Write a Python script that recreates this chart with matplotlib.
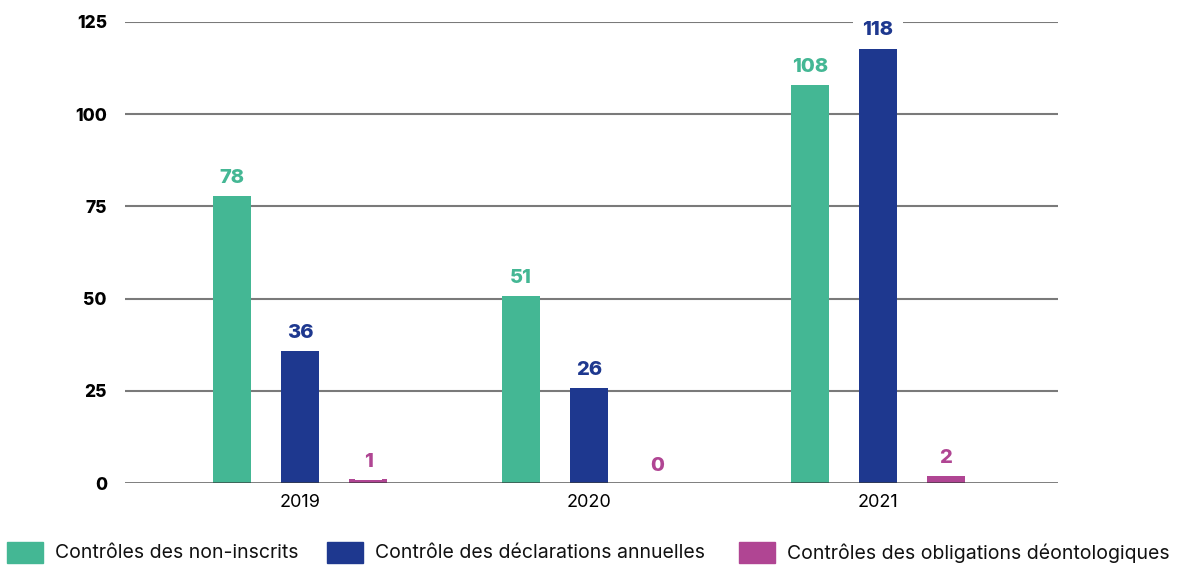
import matplotlib
matplotlib.use("Agg")
import matplotlib.pyplot as plt
from matplotlib.patches import Rectangle
import numpy as np

plt.rcParams['font.family'] = ['Inter', 'DejaVu Sans']

years = ["2019", "2020", "2021"]
series_names = ["Contrôles des non-inscrits",
                "Contrôle des déclarations annuelles",
                "Contrôles des obligations déontologiques"]
non_inscrits = [78, 51, 108]
declarations = [36, 26, 118]
deontologie = [1, 0, 2]
colors = ["#44B794", "#1E388F", "#B04593"]
y_ticks = [0, 25, 50, 75, 100, 125]

fig = plt.figure(figsize=(11.81, 5.66), dpi=100)
ax = fig.add_axes([125 / 1181, 83 / 566, 933 / 1181, 461 / 566])

x = np.arange(len(years))
width = 0.131
offset = 0.235
for i, (vals, col) in enumerate(zip([non_inscrits, declarations, deontologie], colors)):
    pos = x + (i - 1) * offset
    ax.bar(pos, vals, width=width, color=col, zorder=2)
    for px, v in zip(pos, vals):
        ax.annotate(str(v), (px, v), xytext=(0, 6), textcoords="offset points",
                    ha="center", va="bottom", color=col, fontsize=14.5,
                    fontweight="heavy", zorder=5,
                    bbox=dict(boxstyle="square,pad=0.45", fc="white", ec="none"))

for t in y_ticks[1:]:
    ax.axhline(t, color="#7a7a7a", lw=1.5, zorder=1)
# baseline stays visible over bars and label boxes
ax.axhline(0, color="#3a3a3a", lw=1.8, alpha=0.85, zorder=6)

ax.set_xlim(-0.606, 2.623)
ax.set_ylim(0, 125)
ax.set_yticks(y_ticks)
ax.set_yticklabels([str(t) for t in y_ticks], fontsize=12.5, fontweight="heavy")
ax.set_xticks(x)
ax.set_xticklabels(years, fontsize=13)
ax.tick_params(axis="both", length=0)
ax.tick_params(axis="y", pad=13)
ax.tick_params(axis="x", pad=8)
for s in ax.spines.values():
    s.set_visible(False)

# Legend row along the bottom edge
legend_x = [7, 327, 739]
for lx, name, col in zip(legend_x, series_names, colors):
    fig.patches.append(Rectangle((lx / 1181, (566 - 563) / 566), 36 / 1181, 21 / 566,
                                 transform=fig.transFigure, color=col))
    fig.text((lx + 48) / 1181, (566 - 553) / 566, name, fontsize=14,
             va="center", ha="left", color="#111111")

fig.savefig("out.png", dpi=100)
